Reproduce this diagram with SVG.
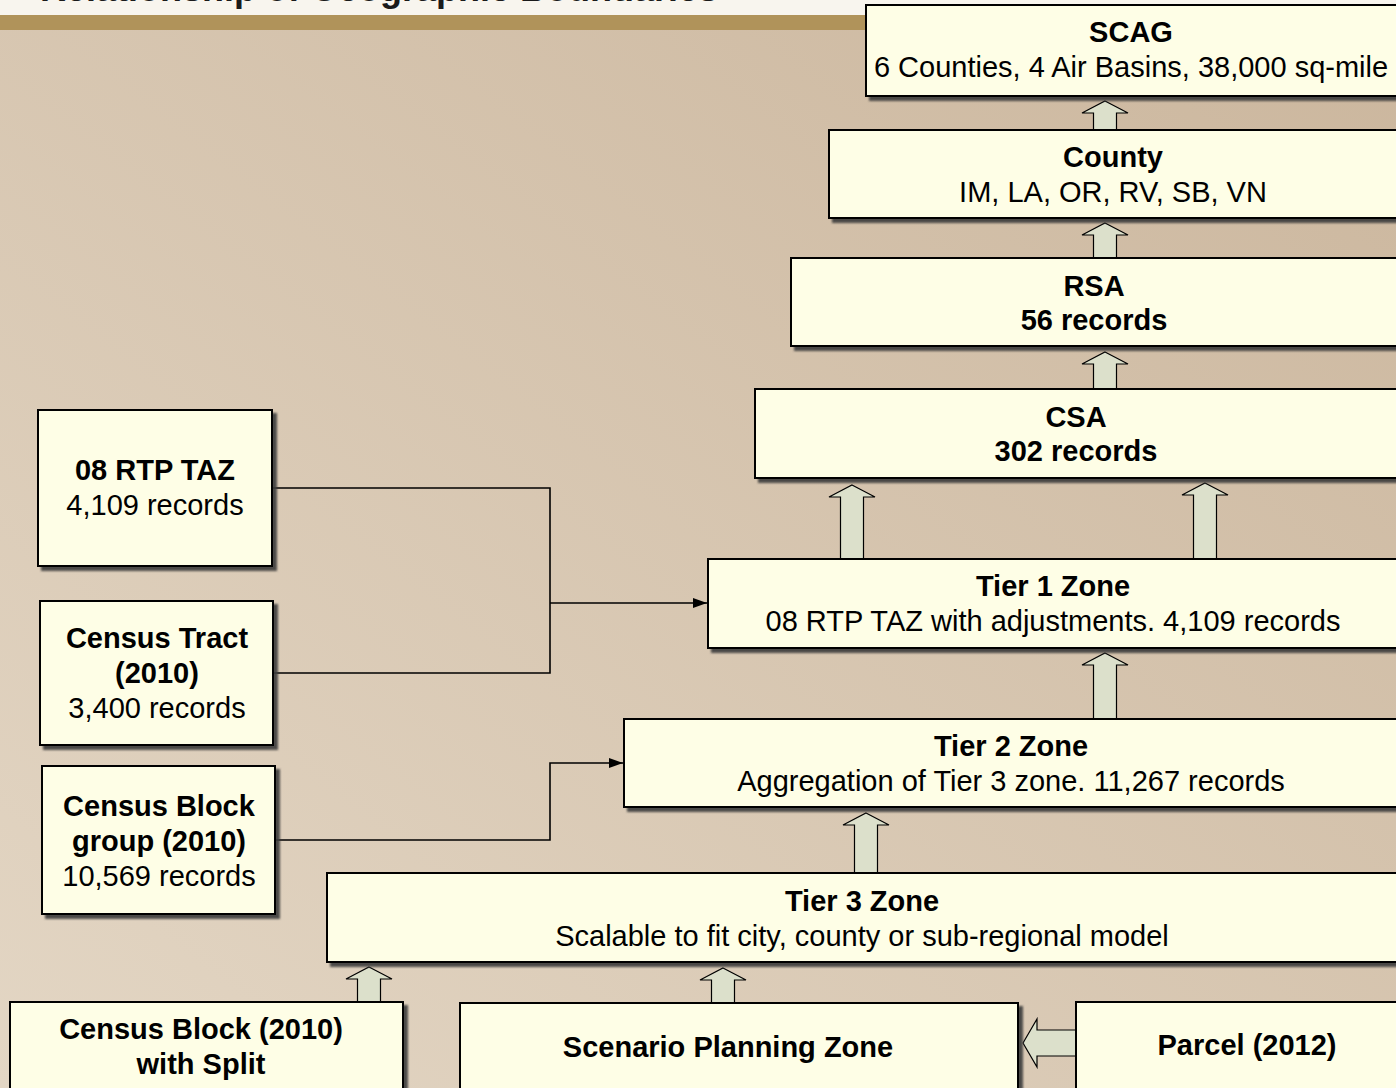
<svg xmlns="http://www.w3.org/2000/svg" width="1396" height="1088" viewBox="0 0 1396 1088">
  <defs>
    <linearGradient id="bg" x1="1" y1="0" x2="0" y2="1">
      <stop offset="0" stop-color="#CBB69D"/>
      <stop offset="1" stop-color="#E3D6C4"/>
    </linearGradient>
    <filter id="drop" x="-5%" y="-5%" width="115%" height="115%">
      <feGaussianBlur in="SourceAlpha" stdDeviation="0.8"/>
      <feOffset dx="4" dy="4" result="off"/>
      <feFlood flood-color="#3c3c3c" flood-opacity="0.9"/>
      <feComposite in2="off" operator="in"/>
      <feMerge>
        <feMergeNode/>
        <feMergeNode in="SourceGraphic"/>
      </feMerge>
    </filter>
    <marker id="tip" viewBox="0 0 14 10" refX="14" refY="5" markerWidth="14" markerHeight="10" markerUnits="userSpaceOnUse" orient="auto">
      <path d="M0,0 L14,5 L0,10 Z" fill="#000"/>
    </marker>
    <style>
      .box { fill: #FEFEE6; stroke: #000; stroke-width: 2; filter: url(#drop); }
      .t { font-family: "Liberation Sans", Arial, sans-serif; font-size: 29px; fill: #000; text-anchor: middle; }
      .b { font-weight: bold; }
      .blk { fill: #DCE0CB; stroke: #000; stroke-width: 1.2; stroke-linejoin: miter; }
      .line { fill: none; stroke: #000; stroke-width: 1.6; }
    </style>
  </defs>

  <!-- background and title band -->
  <rect x="0" y="0" width="1396" height="1088" fill="url(#bg)"/>
  <rect x="0" y="0" width="1396" height="15" fill="#F8F5EE"/>
  <rect x="0" y="15" width="1396" height="15" fill="#B0935A"/>
  <text x="40" y="1" font-family="Liberation Sans, Arial, sans-serif" font-weight="bold" font-size="36" fill="#1a1a1a">Relationship of Geographic Boundaries</text>

  <!-- connectors -->
  <g id="connectors">
    <path class="line" d="M272,488 H550 V673 H273"/>
    <path class="line" d="M550,603 H707" marker-end="url(#tip)"/>
    <path class="line" d="M275,840 H550 V763 H623" marker-end="url(#tip)"/>
    <path class="blk" d="M1105,101 L1128,113 L1116.5,113 L1116.5,131 L1093.5,131 L1093.5,113 L1082,113 Z"/>
    <path class="blk" d="M1105,223 L1128,235 L1116.5,235 L1116.5,258 L1093.5,258 L1093.5,235 L1082,235 Z"/>
    <path class="blk" d="M1105,352 L1128,364 L1116.5,364 L1116.5,389 L1093.5,389 L1093.5,364 L1082,364 Z"/>
    <path class="blk" d="M852,485 L875,497 L863.5,497 L863.5,559 L840.5,559 L840.5,497 L829,497 Z"/>
    <path class="blk" d="M1205,483 L1228,495 L1216.5,495 L1216.5,559 L1193.5,559 L1193.5,495 L1182,495 Z"/>
    <path class="blk" d="M1105,653 L1128,665 L1116.5,665 L1116.5,719 L1093.5,719 L1093.5,665 L1082,665 Z"/>
    <path class="blk" d="M866,813 L889,825 L877.5,825 L877.5,873 L854.5,873 L854.5,825 L843,825 Z"/>
    <path class="blk" d="M369,967 L392,979 L380.5,979 L380.5,1002 L357.5,1002 L357.5,979 L346,979 Z"/>
    <path class="blk" d="M723,968 L746,980 L734.5,980 L734.5,1003 L711.5,1003 L711.5,980 L700,980 Z"/>
    <path class="blk" d="M1023,1043 L1037,1019 L1037,1030 L1076,1030 L1076,1056 L1037,1056 L1037,1067 Z"/>
  </g>

  <!-- nodes -->
  <g id="scag">
    <rect class="box" x="866" y="5" width="531" height="91"/>
    <text class="t b" x="1131" y="42">SCAG</text>
    <text class="t" x="1131" y="77">6 Counties, 4 Air Basins, 38,000 sq-mile</text>
  </g>
  <g id="county">
    <rect class="box" x="829" y="130" width="568" height="88"/>
    <text class="t b" x="1113" y="167">County</text>
    <text class="t" x="1113" y="202">IM, LA, OR, RV, SB, VN</text>
  </g>
  <g id="rsa">
    <rect class="box" x="791" y="258" width="606" height="88"/>
    <text class="t b" x="1094" y="296">RSA</text>
    <text class="t b" x="1094" y="330">56 records</text>
  </g>
  <g id="csa">
    <rect class="box" x="755" y="389" width="642" height="89"/>
    <text class="t b" x="1076" y="427">CSA</text>
    <text class="t b" x="1076" y="461">302 records</text>
  </g>
  <g id="tier1">
    <rect class="box" x="708" y="559" width="689" height="89"/>
    <text class="t b" x="1053" y="596">Tier 1 Zone</text>
    <text class="t" x="1053" y="631">08 RTP TAZ with adjustments. 4,109 records</text>
  </g>
  <g id="tier2">
    <rect class="box" x="624" y="719" width="773" height="88"/>
    <text class="t b" x="1011" y="756">Tier 2 Zone</text>
    <text class="t" x="1011" y="791">Aggregation of Tier 3 zone. 11,267 records</text>
  </g>
  <g id="tier3">
    <rect class="box" x="327" y="873" width="1070" height="89"/>
    <text class="t b" x="862" y="911">Tier 3 Zone</text>
    <text class="t" x="862" y="946">Scalable to fit city, county or sub-regional model</text>
  </g>
  <g id="rtp-taz">
    <rect class="box" x="38" y="410" width="234" height="156"/>
    <text class="t b" x="155" y="480">08 RTP TAZ</text>
    <text class="t" x="155" y="515">4,109 records</text>
  </g>
  <g id="census-tract">
    <rect class="box" x="40" y="601" width="233" height="144"/>
    <text class="t b" x="157" y="648">Census Tract</text>
    <text class="t b" x="157" y="683">(2010)</text>
    <text class="t" x="157" y="718">3,400 records</text>
  </g>
  <g id="block-group">
    <rect class="box" x="42" y="766" width="233" height="148"/>
    <text class="t b" x="159" y="816">Census Block</text>
    <text class="t b" x="159" y="851">group (2010)</text>
    <text class="t" x="159" y="886">10,569 records</text>
  </g>
  <g id="census-block">
    <rect class="box" x="10" y="1002" width="393" height="100"/>
    <text class="t b" x="201" y="1039">Census Block (2010)</text>
    <text class="t b" x="201" y="1074">with Split</text>
  </g>
  <g id="scenario">
    <rect class="box" x="460" y="1003" width="558" height="100"/>
    <text class="t b" x="728" y="1057">Scenario Planning Zone</text>
  </g>
  <g id="parcel">
    <rect class="box" x="1076" y="1002" width="330" height="100"/>
    <text class="t b" x="1247" y="1055">Parcel (2012)</text>
  </g>
</svg>
